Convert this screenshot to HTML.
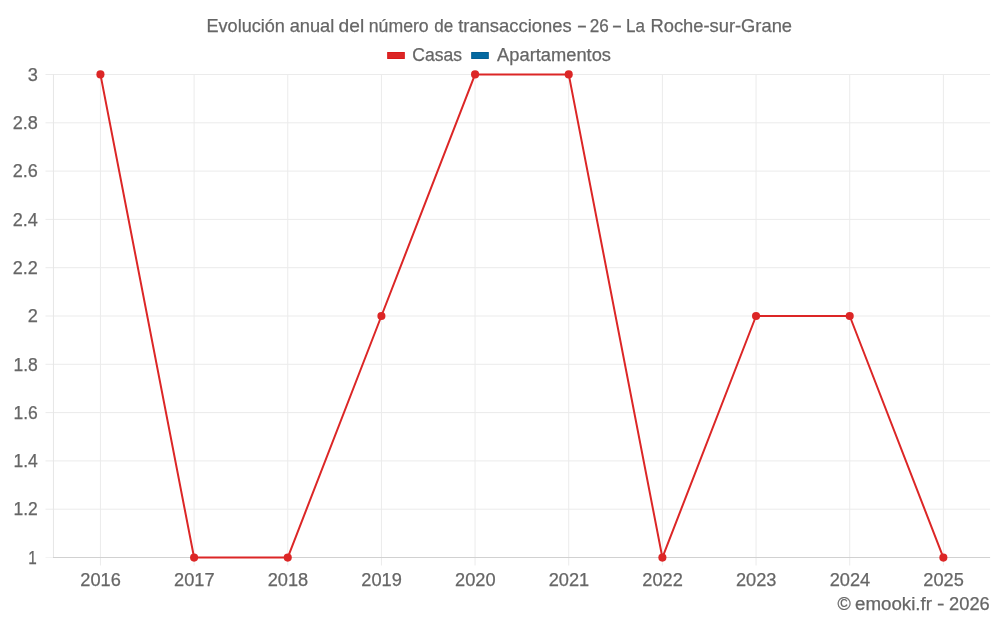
<!DOCTYPE html>
<html lang="es"><head><meta charset="utf-8"><title>Evolución anual del número de transacciones</title>
<style>
html,body{margin:0;padding:0;background:#fff;}
body{width:1000px;height:625px;overflow:hidden;}
svg{display:block;}
text{font-family:"Liberation Sans",sans-serif;font-size:18px;fill:#666;stroke:#666;stroke-width:0.25px;}
</style></head><body>
<svg width="1000" height="625" viewBox="0 0 1000 625">
<rect width="1000" height="625" fill="#fff"/>

<g stroke="#ebebeb" stroke-width="1" fill="none">
<line x1="45.5" x2="990.1" y1="74.50" y2="74.50"/>
<line x1="45.5" x2="990.1" y1="122.80" y2="122.80"/>
<line x1="45.5" x2="990.1" y1="171.10" y2="171.10"/>
<line x1="45.5" x2="990.1" y1="219.40" y2="219.40"/>
<line x1="45.5" x2="990.1" y1="267.70" y2="267.70"/>
<line x1="45.5" x2="990.1" y1="316.00" y2="316.00"/>
<line x1="45.5" x2="990.1" y1="364.30" y2="364.30"/>
<line x1="45.5" x2="990.1" y1="412.60" y2="412.60"/>
<line x1="45.5" x2="990.1" y1="460.90" y2="460.90"/>
<line x1="45.5" x2="990.1" y1="509.20" y2="509.20"/>
<line x1="100.43" x2="100.43" y1="74.5" y2="565.5"/>
<line x1="194.09" x2="194.09" y1="74.5" y2="565.5"/>
<line x1="287.75" x2="287.75" y1="74.5" y2="565.5"/>
<line x1="381.41" x2="381.41" y1="74.5" y2="565.5"/>
<line x1="475.07" x2="475.07" y1="74.5" y2="565.5"/>
<line x1="568.73" x2="568.73" y1="74.5" y2="565.5"/>
<line x1="662.39" x2="662.39" y1="74.5" y2="565.5"/>
<line x1="756.05" x2="756.05" y1="74.5" y2="565.5"/>
<line x1="849.71" x2="849.71" y1="74.5" y2="565.5"/>
<line x1="943.37" x2="943.37" y1="74.5" y2="565.5"/>
<line x1="53.45" x2="53.45" y1="74.5" y2="558.0" stroke="#e6e6e6"/>
</g>
<line x1="45.5" x2="53" y1="557.5" y2="557.5" stroke="#f3f3f3" stroke-width="1"/>
<line x1="53" x2="990.1" y1="557.5" y2="557.5" stroke="#d1d1d1" stroke-width="1"/>
<polyline points="100.43,74.40 194.09,557.60 287.75,557.60 381.41,316.00 475.07,74.40 568.73,74.40 662.39,557.60 756.05,316.00 849.71,316.00 943.37,557.60" fill="none" stroke="#dc2626" stroke-width="2" stroke-linejoin="round"/>
<circle cx="100.43" cy="74.40" r="4.05" fill="#dc2626"/>
<circle cx="194.09" cy="557.60" r="4.05" fill="#dc2626"/>
<circle cx="287.75" cy="557.60" r="4.05" fill="#dc2626"/>
<circle cx="381.41" cy="316.00" r="4.05" fill="#dc2626"/>
<circle cx="475.07" cy="74.40" r="4.05" fill="#dc2626"/>
<circle cx="568.73" cy="74.40" r="4.05" fill="#dc2626"/>
<circle cx="662.39" cy="557.60" r="4.05" fill="#dc2626"/>
<circle cx="756.05" cy="316.00" r="4.05" fill="#dc2626"/>
<circle cx="849.71" cy="316.00" r="4.05" fill="#dc2626"/>
<circle cx="943.37" cy="557.60" r="4.05" fill="#dc2626"/>
<text y="31.6" style="font-size:18.5px"><tspan x="206.53" textLength="78.41" lengthAdjust="spacingAndGlyphs">Evolución</tspan> <tspan x="289.66" textLength="44.59" lengthAdjust="spacingAndGlyphs">anual</tspan> <tspan x="338.62" textLength="25.63" lengthAdjust="spacingAndGlyphs">del</tspan> <tspan x="368.81" textLength="59.89" lengthAdjust="spacingAndGlyphs">número</tspan> <tspan x="434.27" textLength="18.93" lengthAdjust="spacingAndGlyphs">de</tspan> <tspan x="458.15" textLength="113.5" lengthAdjust="spacingAndGlyphs">transacciones</tspan> <tspan x="576.74" textLength="10.39" lengthAdjust="spacingAndGlyphs">-</tspan> <tspan x="589.71" textLength="19.06" lengthAdjust="spacingAndGlyphs">26</tspan> <tspan x="611.74" textLength="10.39" lengthAdjust="spacingAndGlyphs">-</tspan> <tspan x="626.06" textLength="18.93" lengthAdjust="spacingAndGlyphs">La</tspan> <tspan x="650.51" textLength="141.55" lengthAdjust="spacingAndGlyphs">Roche-sur-Grane</tspan></text>
<rect x="387.7" y="52.5" width="16.6" height="6" fill="#dc2626" stroke="#d91a1a" stroke-width="1"/>
<rect x="471.7" y="52.5" width="16.6" height="6" fill="#0369a1" stroke="#035f94" stroke-width="1"/>
<text x="412.37" y="61" textLength="49.75" lengthAdjust="spacingAndGlyphs">Casas</text>
<text x="497.1" y="61" textLength="113.87" lengthAdjust="spacingAndGlyphs">Apartamentos</text>
<text x="37.79" y="80.70" text-anchor="end" textLength="10.12" lengthAdjust="spacingAndGlyphs">3</text>
<text x="37.79" y="129.00" text-anchor="end" textLength="25.14" lengthAdjust="spacingAndGlyphs">2.8</text>
<text x="37.79" y="177.30" text-anchor="end" textLength="25.14" lengthAdjust="spacingAndGlyphs">2.6</text>
<text x="37.79" y="225.60" text-anchor="end" textLength="25.14" lengthAdjust="spacingAndGlyphs">2.4</text>
<text x="37.79" y="273.90" text-anchor="end" textLength="25.14" lengthAdjust="spacingAndGlyphs">2.2</text>
<text x="37.79" y="322.20" text-anchor="end" textLength="10.12" lengthAdjust="spacingAndGlyphs">2</text>
<text x="13.38" y="370.50" textLength="24.38" lengthAdjust="spacingAndGlyphs">1.8</text>
<text x="13.38" y="418.80" textLength="24.38" lengthAdjust="spacingAndGlyphs">1.6</text>
<text x="13.38" y="467.10" textLength="24.38" lengthAdjust="spacingAndGlyphs">1.4</text>
<text x="13.38" y="515.40" textLength="24.38" lengthAdjust="spacingAndGlyphs">1.2</text>
<text x="28.14" y="563.70" textLength="8.51" lengthAdjust="spacingAndGlyphs">1</text>
<text x="100.63" y="585.7" text-anchor="middle" textLength="40.5" lengthAdjust="spacingAndGlyphs">2016</text>
<text x="194.29" y="585.7" text-anchor="middle" textLength="40.5" lengthAdjust="spacingAndGlyphs">2017</text>
<text x="287.95" y="585.7" text-anchor="middle" textLength="40.5" lengthAdjust="spacingAndGlyphs">2018</text>
<text x="381.61" y="585.7" text-anchor="middle" textLength="40.5" lengthAdjust="spacingAndGlyphs">2019</text>
<text x="475.27" y="585.7" text-anchor="middle" textLength="40.5" lengthAdjust="spacingAndGlyphs">2020</text>
<text x="568.93" y="585.7" text-anchor="middle" textLength="40.5" lengthAdjust="spacingAndGlyphs">2021</text>
<text x="662.59" y="585.7" text-anchor="middle" textLength="40.5" lengthAdjust="spacingAndGlyphs">2022</text>
<text x="756.25" y="585.7" text-anchor="middle" textLength="40.5" lengthAdjust="spacingAndGlyphs">2023</text>
<text x="849.91" y="585.7" text-anchor="middle" textLength="40.5" lengthAdjust="spacingAndGlyphs">2024</text>
<text x="943.57" y="585.7" text-anchor="middle" textLength="40.5" lengthAdjust="spacingAndGlyphs">2025</text>
<text y="609.7"><tspan x="837.4" textLength="13.27" lengthAdjust="spacingAndGlyphs">©</tspan> <tspan x="855.02" textLength="76.97" lengthAdjust="spacingAndGlyphs">emooki.fr</tspan> <tspan x="937.07" textLength="7.47" lengthAdjust="spacingAndGlyphs">-</tspan> <tspan x="949.14" textLength="40.67" lengthAdjust="spacingAndGlyphs">2026</tspan></text>
</svg></body></html>
